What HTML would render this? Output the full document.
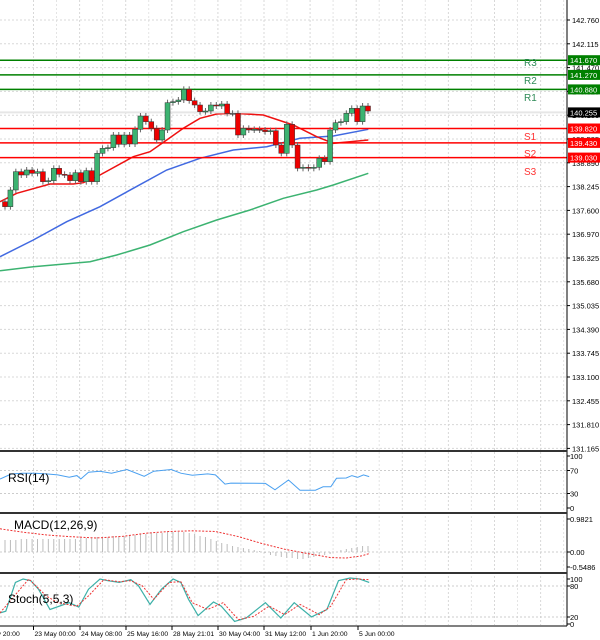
<!DOCTYPE html>
<html><head><meta charset="utf-8"><style>
html,body{margin:0;padding:0;background:#fff;}
svg{display:block;font-family:"Liberation Sans",sans-serif;}
</style></head><body>
<svg id="s" width="600" height="640" xmlns="http://www.w3.org/2000/svg"></svg>
<script>
const S=document.getElementById('s');let h='';
for(let x=33.5-46.1;x<567;x+=46.1){if(x<0)continue;h+=`<line x1="${x}" y1="0" x2="${x}" y2="625" stroke="#d8d8d8" stroke-dasharray="2,2"/>`;}
for(let x=33.5+23;x<567;x+=46.1){h+=`<line x1="${x}" y1="0" x2="${x}" y2="625" stroke="#e4e4e4" stroke-dasharray="2,2"/>`;}
const labs=["142.760","142.115","141.470","140.825","140.180","139.535","138.890","138.245","137.600","136.970","136.325","135.680","135.035","134.390","133.745","133.100","132.455","131.810","131.165"];
labs.forEach((l,i)=>{const y=20+i*23.8;h+=`<line x1="0" y1="${y}" x2="567" y2="${y}" stroke="#d8d8d8" stroke-dasharray="2,2"/><line x1="567" y1="${y}" x2="570" y2="${y}" stroke="#000"/><text x="572" y="${y+3}" font-size="7.5" fill="#000">${l}</text>`;});
[470.5,493.5,552,586,617].forEach(y=>h+=`<line x1="0" y1="${y}" x2="567" y2="${y}" stroke="#ccc" stroke-dasharray="2,2"/>`);
const zc=pts=>pts.map(p=>`${(p[0]/3).toFixed(1)},${(p[1]/3+80).toFixed(1)}`).join(' ');
h+=`<polyline fill="none" stroke="#3cb371" stroke-width="1.5" points="${zc([[0,572],[100,560],[270,545],[350,525],[450,495],[550,455],[650,420],[750,390],[850,355],[950,330],[1000,315],[1105,280]])}"/>`;
h+=`<polyline fill="none" stroke="#4169e1" stroke-width="1.5" points="${zc([[0,530],[100,480],[200,425],[300,380],[400,325],[500,270],[600,235],[700,210],[800,200],[900,175],[1000,168],[1105,148]])}"/>`;
h+=`<polyline fill="none" stroke="#ee1111" stroke-width="1.5" points="${zc([[0,365],[50,340],[150,312],[220,312],[250,308],[300,285],[400,230],[450,215],[500,180],[550,145],[600,115],[650,102],[700,100],[790,105],[880,135],[950,170],[1000,190],[1050,185],[1105,180]])}"/>`;
[[60.2,'#008000'],[74.9,'#008000'],[89.4,'#008000'],[128.5,'#ff0000'],[142.9,'#ff0000'],[157.6,'#ff0000']].forEach(a=>h+=`<line x1="0" y1="${a[0]}" x2="567" y2="${a[0]}" stroke="${a[1]}" stroke-width="1.5"/>`);
h+=`<line x1="0" y1="112.4" x2="567" y2="112.4" stroke="#e6e6e6" stroke-width="2"/>`;
[['R3',66,'#2e8b57'],['R2',84,'#2e8b57'],['R1',101,'#2e8b57'],['S1',140,'#ff3333'],['S2',157,'#ff3333'],['S3',175,'#ff3333']].forEach(a=>h+=`<text x="524" y="${a[1]}" font-size="10" fill="${a[2]}">${a[0]}</text>`);
const cl=[380,330,275,285,270,280,275,305,302,265,283,285,302,278,305,272,305,220,205,203,165,193,165,192,148,108,125,145,180,150,68,65,60,28,62,75,95,93,75,78,72,100,100,165,145,150,148,150,155,152,195,220,133,195,265,262,265,262,235,245,150,128,125,100,85,125,78,93];
const n=cl.length;let prev=365;const xs=[];
for(let i=0;i<n;i++){const x=5+i*(363/(n-1));xs.push(x);const o=prev/3+80,c=cl[i]/3+80;prev=cl[i];
const t=Math.min(o,c),b=Math.max(o,c);const col=c<o?'#3cb371':(c>o?'#e00':'#888');
h+=`<line x1="${x}" y1="${t-3}" x2="${x}" y2="${b+3}" stroke="#666"/>`;
h+=`<rect x="${x-2.5}" y="${t}" width="5" height="${Math.max(b-t,1)}" fill="${col}" stroke="#333" stroke-width="0.5"/>`;}
[[60.2,'141.670','#008000'],[74.9,'141.270','#008000'],[89.4,'140.880','#008000'],[112.4,'140.255','#000'],[128.5,'139.820','#ff0000'],[142.9,'139.430','#ff0000'],[157.6,'139.030','#ff0000']].forEach(a=>h+=`<rect x="568" y="${a[0]-5}" width="32" height="10" fill="${a[2]}"/><text x="570" y="${a[0]+3}" font-size="7.5" fill="#fff">${a[1]}</text>`);
h+=`<line x1="567" y1="0" x2="567" y2="626" stroke="#000"/>`;
[451,513,573].forEach(y=>h+=`<line x1="0" y1="${y}" x2="567" y2="${y}" stroke="#333" stroke-width="2"/>`);
h+=`<line x1="0" y1="626" x2="567" y2="626" stroke="#000"/>`;
[[456,'100'],[470.5,'70'],[493.5,'30'],[508,'0'],[519,'0.9821'],[552,'0.00'],[567,'-0.5486'],[579,'100'],[586,'80'],[617,'20'],[624,'0']].forEach(a=>h+=`<line x1="567" y1="${a[0]}" x2="570" y2="${a[0]}" stroke="#000"/><text x="570" y="${a[0]+3}" font-size="7.5">${a[1]}</text>`);
const z2=pts=>pts.map(p=>`${(p[0]/2.6).toFixed(1)},${(p[1]/2.95+440).toFixed(1)}`).join(' ');
h+=`<polyline fill="none" stroke="#4aa0f0" points="${z2([[0,115],[30,100],[60,98],[90,98],[120,100],[150,103],[180,110],[200,105],[210,115],[230,95],[260,92],[290,98],[330,87],[375,107],[400,92],[445,87],[470,98],[500,104],[540,100],[560,103],[585,130],[600,127],[690,128],[715,147],[750,118],[780,148],[820,148],[840,138],[860,138],[875,113],[900,112],[915,105],[930,110],[945,103],[960,108]])}"/>`;
h+=`<text x="8" y="482" font-size="12">RSI(14)</text>`;
const hv=[12,12,12,13,13,13,13,13,13,13,13,13,13,13,14,14,14,15,15,15,16,16,16,17,17,18,18,19,19,19,20,20,20,20,19,18,16,15,13,11,9,8,6,5,4,3,2,1,-1,-3,-4,-5,-6,-6,-7,-7,-6,-5,-4,-3,-2,0,2,3,4,5,6,6];
for(let i=0;i<n;i++){h+=`<line x1="${xs[i]}" y1="552" x2="${xs[i]}" y2="${552-hv[i]}" stroke="#bbb"/>`;}
h+=`<polyline fill="none" stroke="#e33" stroke-dasharray="2,1.5" points="${z2([[0,262],[60,272],[120,280],[180,285],[250,289],[320,284],[380,275],[440,270],[500,268],[560,270],[620,285],[680,305],[740,322],[800,335],[860,347],[900,348],[940,342],[960,335]])}"/>`;
h+=`<text x="14" y="529" font-size="12">MACD(12,26,9)</text>`;
h+=`<polyline fill="none" stroke="#3cb0a8" stroke-width="1.2" points="${z2([[0,510],[15,505],[40,420],[60,410],[80,415],[100,440],[130,500],[180,480],[205,493],[230,440],[260,410],[280,415],[310,420],[340,412],[360,430],[390,485],[420,440],[450,410],[470,420],[490,470],[515,518],[555,478],[575,490],[610,535],[640,525],[690,480],[730,525],[765,480],[810,522],[850,500],[880,415],[910,407],[935,410],[960,420]])}"/>`;
h+=`<polyline fill="none" stroke="#e33" stroke-dasharray="2,1.5" points="${z2([[0,510],[30,470],[75,410],[120,460],[150,480],[200,490],[230,460],[270,412],[310,418],[340,415],[370,430],[400,470],[440,420],[470,418],[500,480],[540,500],[580,480],[620,530],[660,520],[700,490],[740,515],[780,485],[830,515],[860,490],[900,412],[930,410],[960,412]])}"/>`;
h+=`<text x="8" y="603" font-size="12">Stoch(5,5,3)</text>`;
[['May 20:00',-13],['23 May 00:00',33.5],['24 May 08:00',80],['25 May 16:00',126],['28 May 21:01',172],['30 May 04:00',218],['31 May 12:00',264],['1 Jun 20:00',311],['5 Jun 00:00',358]].forEach(a=>h+=`<line x1="${a[1]}" y1="626" x2="${a[1]}" y2="630" stroke="#000"/><text x="${a[1]+1}" y="636" font-size="6.8">${a[0]}</text>`);
S.innerHTML=h;
</script>
</body></html>
